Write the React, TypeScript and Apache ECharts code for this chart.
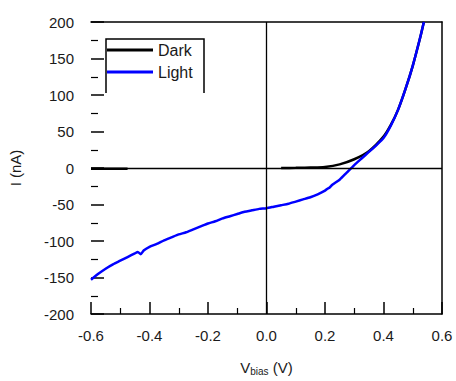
import React, { useEffect, useRef } from "react";
import * as echarts from "echarts";

const darkV = [-0.6, -0.55, -0.5, -0.475, null, 0.05, 0.1, 0.15, 0.2, 0.25, 0.3, 0.35, 0.4, 0.425, 0.45, 0.475, 0.5, 0.525, 0.538];
const darkI = [-1, -1, -1, -1, null, 0, 0.2, 0.6, 1.5, 5, 12, 23, 43, 59, 80, 108, 140, 178, 200];

const lightV = [-0.6, -0.575, -0.55, -0.525, -0.5, -0.475, -0.45, -0.44, -0.43, -0.42, -0.4, -0.375, -0.35, -0.325, -0.3, -0.275, -0.25, -0.225, -0.2, -0.175, -0.15, -0.125, -0.1, -0.075, -0.05, -0.025, 0, 0.025, 0.05, 0.075, 0.1, 0.125, 0.15, 0.175, 0.2, 0.21, 0.215, 0.225, 0.25, 0.275, 0.3, 0.325, 0.35, 0.375, 0.4, 0.425, 0.45, 0.475, 0.5, 0.525, 0.538];
const lightI = [-153, -145, -138, -132, -127, -122, -117, -115, -118, -113, -108, -104, -99, -95, -91, -88, -84, -80, -76, -73, -69, -66, -63, -60, -58, -56, -55, -53, -51, -49, -46, -43, -40, -36, -31, -28, -27, -23, -16, -6, 4, 13, 22, 31, 41, 58, 80, 108, 140, 178, 200];

const xTicks = [-0.6, -0.4, -0.2, 0, 0.2, 0.4, 0.6];
const yTicks = [-200, -150, -100, -50, 0, 50, 100, 150, 200];

const FONT = "Liberation Sans, Arial, sans-serif";
const TXT = "#1a1a1a";

export default function App() {
  const ref = useRef<HTMLDivElement>(null);
  useEffect(() => {
    const chart = echarts.init(ref.current!, null, { renderer: "svg" });
    const pair = (xs: (number | null)[], ys: (number | null)[]) =>
      xs.map((x, i) => (x === null ? [null, null] : [x, ys[i]]));
    chart.setOption({
      animation: false,
      textStyle: { fontFamily: FONT },
      grid: { left: 89, right: 14, top: 22, bottom: 61, containLabel: false },
      legend: {
        left: 106,
        top: 39,
        orient: "vertical",
        icon: "rect",
        itemWidth: 46,
        itemHeight: 3,
        itemGap: 4,
        padding: [2, 4, 12, 1],
        itemStyle: { borderWidth: 0 },
        textStyle: { fontSize: 16, color: TXT, lineHeight: 18, fontFamily: FONT },
        data: ["Dark", "Light"],
        selectedMode: false,
      },
      xAxis: [
        {
          type: "value",
          min: xTicks[0],
          max: xTicks[xTicks.length - 1],
          interval: 0.2,
          position: "bottom",
          name: "V{sub|bias} (V)",
          nameLocation: "middle",
          nameGap: 44,
          nameTextStyle: {
            fontSize: 15,
            color: TXT,
            fontFamily: FONT,
            rich: { sub: { fontSize: 10, verticalAlign: "bottom", padding: [8, 0, 0, 0], color: TXT } },
          },
          axisLine: { show: true, onZero: false, lineStyle: { color: "#000", width: 1.5 } },
          axisTick: { show: true, inside: true, length: 12, lineStyle: { color: "#000", width: 1.5 } },
          minorTick: { show: true, splitNumber: 2, length: 6, lineStyle: { color: "#000", width: 1.2 } },
          axisLabel: {
            fontSize: 15,
            color: TXT,
            margin: 14,
            formatter: (v: number) => v.toFixed(1),
          },
          splitLine: { show: false },
        },
        {
          type: "value",
          min: -0.6,
          max: 0.6,
          position: "top",
          axisLine: { show: true, onZero: false, lineStyle: { color: "#000", width: 1.5 } },
          axisTick: { show: false },
          axisLabel: { show: false },
          splitLine: { show: false },
        },
      ],
      yAxis: [
        {
          type: "value",
          min: yTicks[0],
          max: yTicks[yTicks.length - 1],
          interval: 50,
          position: "left",
          name: "I (nA)",
          nameLocation: "middle",
          nameGap: 68,
          nameTextStyle: { fontSize: 15, color: TXT, fontFamily: FONT },
          axisLine: { show: false, onZero: false },
          axisTick: { show: true, inside: true, length: 13, lineStyle: { color: "#000", width: 1.5 } },
          minorTick: { show: true, splitNumber: 2, length: 7, lineStyle: { color: "#000", width: 1.2 } },
          axisLabel: { fontSize: 15, color: TXT, margin: 17 },
          splitLine: { show: false },
        },
        {
          type: "value",
          min: -200,
          max: 200,
          position: "right",
          axisLine: { show: true, onZero: false, lineStyle: { color: "#000", width: 1.5 } },
          axisTick: { show: false },
          axisLabel: { show: false },
          splitLine: { show: false },
        },
      ],
      graphic: [
        {
          type: "polyline",
          shape: { points: [[106, 93], [106, 39], [204, 39], [204, 93]] },
          style: { stroke: "#000", lineWidth: 1.5, fill: "none" },
          z: 10,
        },
      ],
      series: [
        {
          name: "Dark",
          type: "line",
          data: pair(darkV, darkI),
          showSymbol: false,
          connectNulls: false,
          smooth: 0.3,
          lineStyle: { color: "#000", width: 2.5 },
          itemStyle: { color: "#000" },
          z: 3,
          markLine: {
            silent: true,
            symbol: "none",
            label: { show: false },
            lineStyle: { color: "#000", width: 1.3, type: "solid" },
            data: [{ xAxis: 0 }, { yAxis: 0 }],
          },
        },
        {
          name: "Light",
          type: "line",
          data: pair(lightV, lightI),
          showSymbol: false,
          smooth: 0.2,
          lineStyle: { color: "#0000ff", width: 2.5 },
          itemStyle: { color: "#0000ff" },
          z: 4,
        },
      ],
    });
    return () => chart.dispose();
  }, []);
  return (
    <div
      ref={ref}
      style={{ position: "absolute", left: 0, top: 0, width: 456, height: 381, background: "#fff" }}
    />
  );
}
